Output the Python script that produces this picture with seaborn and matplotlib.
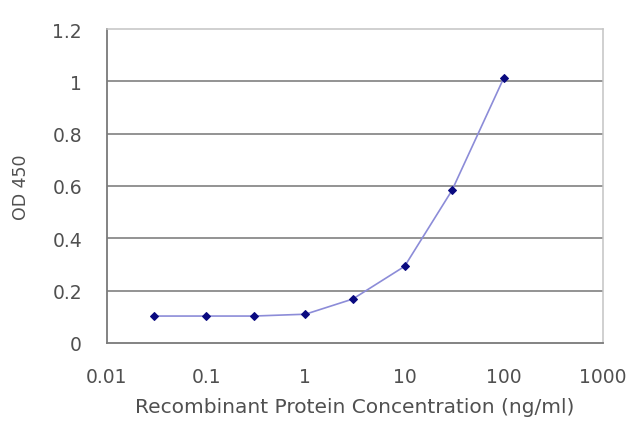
import numpy as np
import pandas as pd
import matplotlib
matplotlib.use("Agg")
import matplotlib.pyplot as plt
import seaborn as sns

# concentrations (ng/ml) and OD450 readings
concentration = [0.03, 0.1, 0.3, 1, 3, 10, 30, 100]
od450 = [0.103, 0.103, 0.103, 0.11, 0.168, 0.293, 0.583, 1.013]
xticks = [0.01, 0.1, 1, 10, 100, 1000]
xtick_labels = ["0.01", "0.1", "1", "10", "100", "1000"]
yticks = [0, 0.2, 0.4, 0.6, 0.8, 1, 1.2]
ytick_labels = ["0", "0.2", "0.4", "0.6", "0.8", "1", "1.2"]

df = pd.DataFrame({"conc": concentration, "od": od450})

sns.set_style("white")
plt.rcParams['font.family'] = ['DejaVu Sans']
text_col = "#505050"
fs = 13.5

fig = plt.figure(figsize=(6.4, 4.27), dpi=100)
ax = fig.add_axes([107 / 640, 1 - 344 / 427, 496 / 640, 314 / 427])

sns.lineplot(data=df, x="conc", y="od", ax=ax, color="#8c8cd8", linewidth=1.2,
             marker="D", markersize=4.5, markerfacecolor="#0a0a80",
             markeredgecolor="#0a0a80")

ax.set_xscale("log")
ax.set_xlim(0.01, 1000)
ax.set_ylim(0, 1.2)
ax.set_xticks(xticks)
ax.set_xticklabels(xtick_labels)
ax.xaxis.set_minor_locator(matplotlib.ticker.NullLocator())
ax.set_yticks(yticks)
ax.set_yticklabels(ytick_labels)

for y in yticks[1:-1]:
    ax.axhline(y, color="#8a8a8a", linewidth=1.3, zorder=0)

for side in ["left", "bottom"]:
    ax.spines[side].set_color("#7a7a7a")
    ax.spines[side].set_linewidth(1.3)
for side in ["right", "top"]:
    ax.spines[side].set_color("#c4c4c4")
    ax.spines[side].set_linewidth(1.1)

ax.tick_params(axis="x", direction="in", length=3, color="#7a7a7a",
               labelsize=fs, labelcolor=text_col, pad=17)
ax.tick_params(axis="y", length=0, labelsize=fs, labelcolor=text_col, pad=18)

ax.set_xlabel("Recombinant Protein Concentration (ng/ml)", fontsize=14.5,
              color=text_col, labelpad=8)
ax.set_ylabel("OD 450", fontsize=12.5, color=text_col, labelpad=16)

fig.savefig("out.png", dpi=100, facecolor="white")
